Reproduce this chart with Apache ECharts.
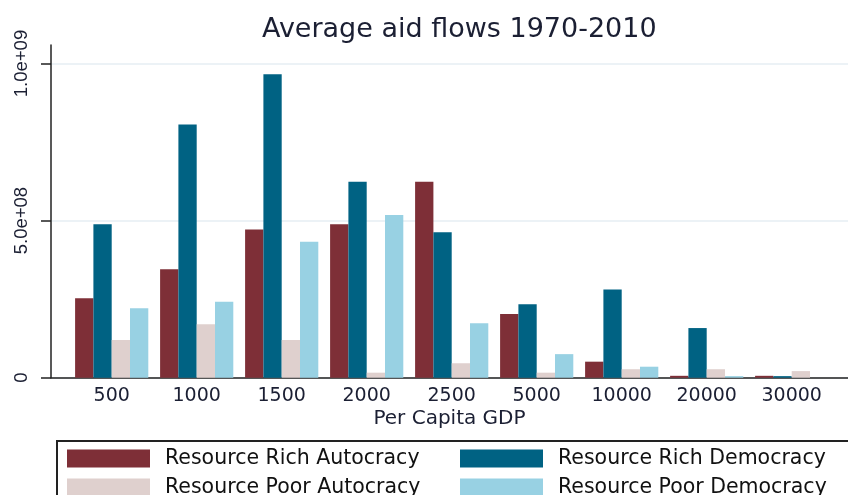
<!DOCTYPE html>
<html>
<head>
<meta charset="utf-8">
<script src="https://cdn.jsdelivr.net/npm/echarts@6/dist/echarts.min.js"></script>
<style>
  html, body { margin: 0; padding: 0; background: #fff; }
  #main { width: 848px; height: 495px; }
</style>
</head>
<body>
<div id="main"></div>
<script>
// income brackets (per capita GDP)
var categories = ['500', '1000', '1500', '2000', '2500', '5000', '10000', '20000', '30000'];
// average aid flows per group
var richAutocracy = [2.53e8, 3.45e8, 4.72e8, 4.88e8, 6.24e8, 2.03e8, 0.51e8, 0.06e8, 0.06e8];
var richDemocracy = [4.88e8, 8.06e8, 9.66e8, 6.24e8, 4.63e8, 2.34e8, 2.81e8, 1.58e8, 0.05e8];
var poorAutocracy = [1.20e8, 1.70e8, 1.20e8, 0.16e8, 0.46e8, 0.16e8, 0.27e8, 0.27e8, 0.21e8];
var poorDemocracy = [2.21e8, 2.42e8, 4.33e8, 5.18e8, 1.73e8, 0.75e8, 0.35e8, 0.05e8, 0];
var seriesNames = ['Resource Rich Autocracy', 'Resource Rich Democracy', 'Resource Poor Autocracy', 'Resource Poor Democracy'];
var yTicks = [0, 5e8, 1e9];

var chart = echarts.init(document.getElementById('main'));
var txt = '#1b1f33';
var wide = '"DejaVu Sans", sans-serif';

function barSeries(name, data, color) {
  return {
    name: name,
    type: 'bar',
    xAxisIndex: 0,
    yAxisIndex: 0,
    barWidth: 18.3,
    barGap: '0%',
    itemStyle: { color: color },
    data: data
  };
}

var option = {
  animation: false,
  backgroundColor: '#fff',
  title: {
    text: 'Average aid flows 1970-2010',
    left: 257,
    top: 11,
    textStyle: { fontFamily: wide, fontSize: 27, fontWeight: 'normal', color: txt }
  },
  legend: {
    data: seriesNames,
    left: 57,
    top: 441,
    width: 780,
    orient: 'horizontal',
    padding: [7, 20, 10, 10],
    itemGap: 8,
    itemWidth: 83,
    itemHeight: 18,
    icon: 'rect',
    borderColor: '#222',
    borderWidth: 2,
    borderRadius: 0,
    textStyle: {
      fontFamily: wide, fontSize: 20.5, color: '#111',
      width: 287, lineHeight: 18, padding: [0, 0, 0, 10]
    }
  },
  grid: [
    { left: 69.2, right: 13.8, top: 63.5, bottom: 117.3 },
    { left: 51, right: 0, top: 63.5, bottom: 117.3 },
    { left: 51, right: 0, top: 45, bottom: 117.3 }
  ],
  xAxis: [
    {
      type: 'category', gridIndex: 0, data: categories,
      axisLine: { show: false }, axisTick: { show: false },
      axisLabel: { fontFamily: wide, fontSize: 19, color: txt, margin: 9 }
    },
    {
      type: 'value', gridIndex: 1, min: 0, max: 1,
      name: 'Per Capita GDP', nameLocation: 'middle', nameGap: 31,
      nameTextStyle: { fontFamily: wide, fontSize: 20, color: txt },
      axisLine: { show: false }, axisTick: { show: false },
      axisLabel: { show: false }, splitLine: { show: false }
    },
    {
      type: 'value', gridIndex: 2, min: 0, max: 1,
      axisLine: { show: true, lineStyle: { color: '#222', width: 1.5 } },
      axisTick: { show: false }, axisLabel: { show: false }, splitLine: { show: false }
    }
  ],
  yAxis: [
    { type: 'value', gridIndex: 0, min: 0, max: 1e9, show: false },
    {
      type: 'value', gridIndex: 1, min: yTicks[0], max: yTicks[2], interval: yTicks[1],
      axisLine: { show: false },
      axisTick: { show: true, length: 10, lineStyle: { color: '#222', width: 1.5 } },
      axisLabel: {
        rotate: 90, margin: 20, fontFamily: 'Arial, "Liberation Sans", sans-serif',
        fontSize: 18.5, color: txt,
        formatter: function (v) {
          return v === 0 ? '0' : v.toExponential(1).replace('e+', 'e+0');
        }
      },
      splitLine: { show: true, lineStyle: { color: '#e6eef3', width: 1.5 } }
    },
    {
      type: 'value', gridIndex: 2, min: 0, max: 1,
      axisLine: { show: true, lineStyle: { color: '#222', width: 1.5 } },
      axisTick: { show: false }, axisLabel: { show: false }, splitLine: { show: false }
    }
  ],
  series: [
    barSeries(seriesNames[0], richAutocracy, '#7e2f37'),
    barSeries(seriesNames[1], richDemocracy, '#006283'),
    barSeries(seriesNames[2], poorAutocracy, '#dfd0ce'),
    barSeries(seriesNames[3], poorDemocracy, '#98d1e3')
  ]
};

chart.setOption(option);
</script>
</body>
</html>
